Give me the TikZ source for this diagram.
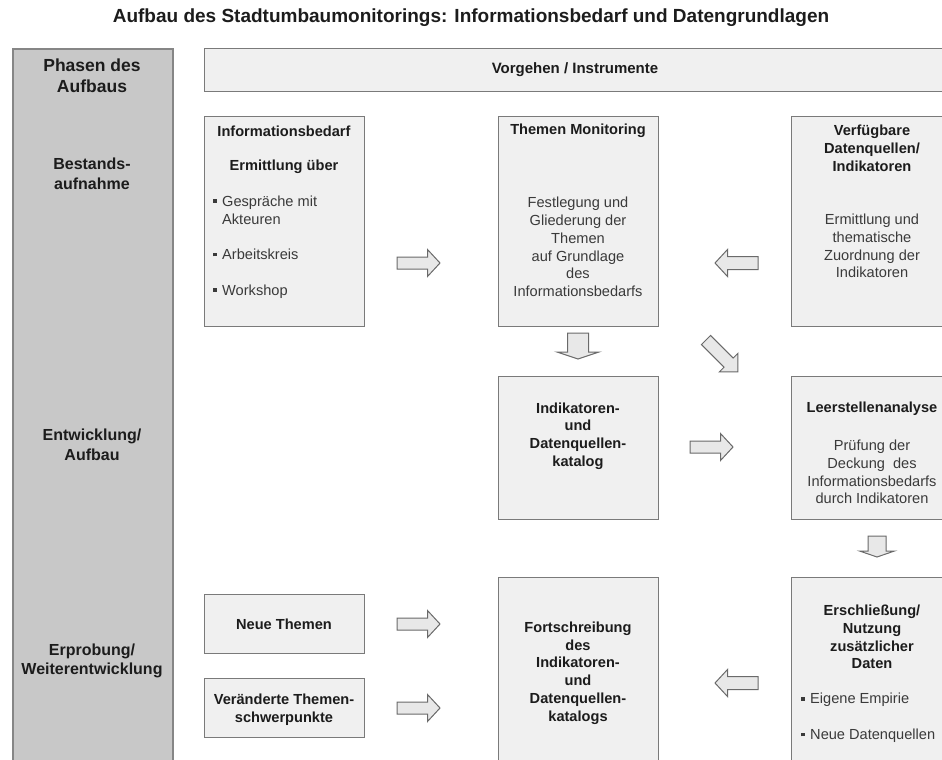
\documentclass[tikz,border=0pt]{standalone}
\usepackage{fontspec}
\setmainfont{Liberation Sans}

\definecolor{phasefill}{HTML}{C8C8C8}
\definecolor{phaseline}{HTML}{868686}
\definecolor{boxfill}{HTML}{F0F0F0}
\definecolor{boxline}{HTML}{7A7A7A}
\definecolor{arrowfill}{HTML}{E8E8E8}
\definecolor{arrowline}{HTML}{6A6A6A}
\definecolor{ink}{HTML}{1C1C1C}
\definecolor{softink}{HTML}{3A3A3A}

% small square bullet with its gap, and the matching hanging indent
\newcommand{\sqbul}{\makebox[9pt][l]{\rule[3.3pt]{3.6pt}{3.6pt}}}
\newcommand{\hang}{\hspace*{9pt}}

\tikzset{
  panel/.style={draw=boxline, fill=boxfill, line width=1.4pt, inner sep=0pt, anchor=north west},
  phasecol/.style={draw=phaseline, fill=phasefill, line width=1.6pt, inner sep=0pt, anchor=north west},
  titletext/.style={font=\fontsize{19}{22}\selectfont\bfseries, text=ink, inner sep=0pt},
  phaselabel/.style={font=\fontsize{16}{19.5}\selectfont\bfseries, text=ink, align=center, inner sep=0pt},
  head/.style={font=\fontsize{14.6}{17.8}\selectfont\bfseries, text=ink, align=center, inner sep=0pt},
  body/.style={font=\fontsize{14.6}{17.8}\selectfont, text=softink, align=center, inner sep=0pt},
  items/.style={font=\fontsize{14.6}{17.8}\selectfont, text=softink, align=left, inner sep=0pt, anchor=west},
  blockarrow/.style={draw=arrowline, fill=arrowfill, line width=1pt, line join=miter},
  % block arrow: length / shaft half width / head half width / head length
  pics/barrow/.style args={#1/#2/#3/#4}{code={
    \path[blockarrow] (0,-#2) -- ({#1-#4},-#2) -- ({#1-#4},-#3) -- (#1,0)
      -- ({#1-#4},#3) -- ({#1-#4},#2) -- (0,#2) -- cycle;
  }},
}

\begin{document}
\begin{tikzpicture}[x=1pt,y=-1pt]
\useasboundingbox (0,0) rectangle (942,760);
\clip (0,0) rectangle (942,760);

% heading
\node[titletext] (title) at (471,18)
  {Aufbau des Stadtumbaumonitorings: Informationsbedarf und Datengrundlagen};

% phase column
\node[phasecol, minimum width=160pt, minimum height=740pt] (phases) at (12,48) {};
\node[phaselabel, font=\fontsize{17.5}{21}\selectfont\bfseries] (p0) at (92,76) {Phasen des\\Aufbaus};
\node[phaselabel] (p1) at (92,174) {Bestands-\\aufnahme};
\node[phaselabel] (p2) at (92,445) {Entwicklung/\\Aufbau};
\node[phaselabel] (p3) at (92,661) {Erprobung/\\Weiterentwicklung};

% column header
\node[panel, minimum width=760pt, minimum height=43pt] (hdr) at (204,48) {};
\node[phaselabel, font=\fontsize{15}{18}\selectfont\bfseries] (hdrtext) at (575,70) {Vorgehen / Instrumente};

% row 1
\node[panel, minimum width=160pt, minimum height=210pt] (info) at (204,116) {};
\node[head] (infoA) at (284,131) {Informationsbedarf};
\node[head] (infoB) at (284,167) {Ermittlung über};
\node[items] (infoC) at (213,247)
  {\sqbul Gespräche mit\\\hang Akteuren\\[17.8pt]\sqbul Arbeitskreis\\[17.8pt]\sqbul Workshop};

\node[panel, minimum width=160pt, minimum height=210pt] (themen) at (498,116) {};
\node[head] (themenA) at (578,131) {Themen Monitoring};
\node[body] (themenB) at (578,247)
  {Festlegung und\\Gliederung der\\Themen\\auf Grundlage\\des\\Informationsbedarfs};

\node[panel, minimum width=162pt, minimum height=210pt] (quellen) at (791,116) {};
\node[head] (quellenA) at (872,148) {Verfügbare\\Datenquellen/\\Indikatoren};
\node[body] (quellenB) at (872,246)
  {Ermittlung und\\thematische\\Zuordnung der\\Indikatoren};

% row 2
\node[panel, minimum width=160pt, minimum height=143pt] (katalog) at (498,376) {};
\node[head] (katalogA) at (578,436) {Indikatoren-\\und\\Datenquellen-\\katalog};

\node[panel, minimum width=162pt, minimum height=143pt] (leer) at (791,376) {};
\node[head] (leerA) at (872,409) {Leerstellenanalyse};
\node[body] (leerB) at (872,472)
  {Prüfung der\\Deckung\ \ des\\Informationsbedarfs\\durch Indikatoren};

% row 3
\node[panel, minimum width=160pt, minimum height=59pt] (neu) at (204,594) {};
\node[head] (neuA) at (284,624) {Neue Themen};

\node[panel, minimum width=160pt, minimum height=59pt] (schwer) at (204,678) {};
\node[head] (schwerA) at (284,710) {Veränderte Themen-\\schwerpunkte};

\node[panel, minimum width=160pt, minimum height=210pt] (fort) at (498,577) {};
\node[head] (fortA) at (578,673)
  {Fortschreibung\\des\\Indikatoren-\\und\\Datenquellen-\\katalogs};

\node[panel, minimum width=162pt, minimum height=210pt] (ersch) at (791,577) {};
\node[head] (erschA) at (872,637) {Erschließung/\\Nutzung\\zusätzlicher\\Daten};
\node[items] (erschB) at (801,718) {\sqbul Eigene Empirie\\[17.8pt]\sqbul Neue Datenquellen};

% block arrows between the panels
\pic at (397,263) {barrow=43/6/13.5/12.5};
\pic[rotate=180] at (758,263) {barrow=43/6.5/13.5/12.5};
\pic[rotate=-90] at (578,333) {barrow=26/10.5/21/7};
\pic[rotate=-45] at (706,340) {barrow=45/6.5/13/13};
\pic at (690,447) {barrow=43/6/13.5/12.5};
\pic[rotate=-90] at (877,536) {barrow=21/9/17.5/6};
\pic at (397,624) {barrow=43/6/13.5/12.5};
\pic at (397,708) {barrow=43/6/13.5/12.5};
\pic[rotate=180] at (758,683) {barrow=43/6.5/13.5/12.5};
\end{tikzpicture}
\end{document}
